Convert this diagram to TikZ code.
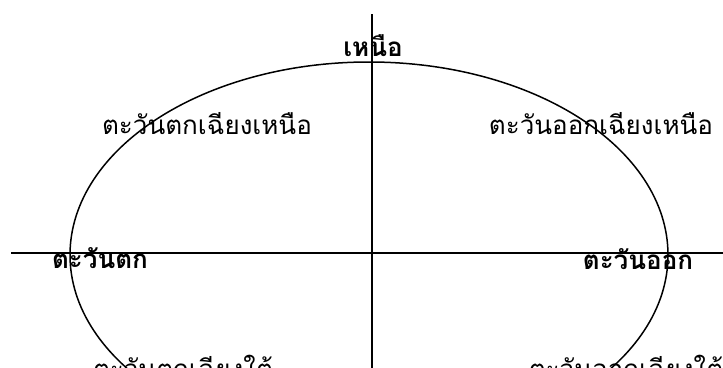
\documentclass[tikz,border=0pt]{standalone}
\usepackage{fontspec}
\newfontfamily\thaifont[Script=Thai]{Loma}
\usetikzlibrary{positioning}

\begin{document}
\begin{tikzpicture}[x=1pt,y=-1pt,
  every node/.style = {inner sep=0pt,
    font=\thaifont\fontsize{26}{30}\selectfont},
  dir/.style = {font=\thaifont\bfseries\fontsize{26}{30}\selectfont}]
  \useasboundingbox (0,0) rectangle (723,367);
  \clip (0,0) rectangle (723,367);
  \draw[line width=1.5pt] (369,255) ellipse [x radius=299pt, y radius=193pt];
  \coordinate (top) at (372,14);
  \coordinate (bottom) at (372,380);
  \coordinate (left) at (11,253);
  \coordinate (right) at (730,253);
  \draw[line width=1.5pt] (top) -- (bottom);
  \draw[line width=1.5pt] (left) -- (right);
  \node[dir] (north) at (373,46) {เหนือ};
  \node[dir] (west) at (100,258) {ตะวันตก};
  \node[dir] (east) at (638,259) {ตะวันออก};
  \node (nw) at (207,124) {ตะวันตกเฉียงเหนือ};
  \node (ne) at (601,124) {ตะวันออกเฉียงเหนือ};
  \node (sw) at (183,367) {ตะวันตกเฉียงใต้};
  \node (se) at (626,367) {ตะวันออกเฉียงใต้};
\end{tikzpicture}
\end{document}
